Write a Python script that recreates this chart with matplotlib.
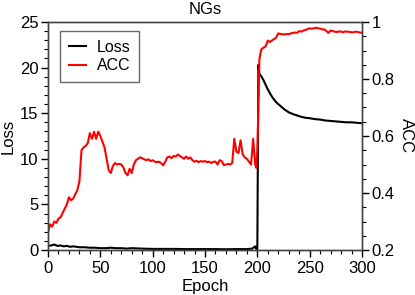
import matplotlib
matplotlib.use("Agg")
import matplotlib.pyplot as plt
from matplotlib.ticker import MultipleLocator

plt.rcParams['font.family'] = ['Liberation Sans', 'DejaVu Sans']

acc_epoch = [0, 2, 4, 6, 8, 10, 12, 14, 16, 18, 20, 22, 24, 26, 28, 30, 32, 34, 36, 38,
             40, 42, 44, 46, 48, 50, 52, 54, 56, 58, 60, 62, 64, 66, 68, 70, 72, 74, 76, 78,
             80, 82, 84, 86, 88, 90, 92, 94, 96, 98, 100, 102, 104, 106, 108, 110, 112, 114, 116, 118,
             120, 122, 124, 126, 128, 130, 132, 134, 136, 138, 140, 142, 144, 146, 148, 150, 152, 154, 156, 158,
             160, 162, 164, 166, 168, 170, 172, 174, 176, 178, 180, 182, 184, 186, 188, 190, 192, 194, 196, 198,
             199, 200, 201, 202, 203, 204, 206, 208, 210, 212, 214, 216, 218, 220, 222, 224, 226, 228, 230, 232,
             234, 236, 238, 240, 242, 244, 246, 248, 250, 252, 254, 256, 258, 260, 262, 264, 266, 268, 270, 272,
             274, 276, 278, 280, 282, 284, 286, 288, 290, 292, 294, 296, 298, 300]
acc_value = [0.262, 0.29, 0.282, 0.30, 0.295, 0.31, 0.315, 0.33, 0.345, 0.36, 0.385, 0.375, 0.38, 0.395, 0.41, 0.44, 0.55, 0.56, 0.565, 0.575,
             0.61, 0.59, 0.615, 0.59, 0.615, 0.60, 0.58, 0.56, 0.52, 0.48, 0.47, 0.495, 0.505, 0.50, 0.502, 0.50, 0.49, 0.47, 0.462, 0.485,
             0.47, 0.50, 0.515, 0.52, 0.525, 0.522, 0.518, 0.515, 0.518, 0.512, 0.515, 0.51, 0.508, 0.51, 0.505, 0.497, 0.51, 0.525, 0.528, 0.522,
             0.53, 0.528, 0.535, 0.53, 0.525, 0.52, 0.528, 0.52, 0.525, 0.515, 0.51, 0.513, 0.508, 0.512, 0.51, 0.512, 0.508, 0.51, 0.505, 0.51,
             0.51, 0.50, 0.515, 0.512, 0.498, 0.50, 0.502, 0.50, 0.505, 0.59, 0.545, 0.54, 0.585, 0.535, 0.525, 0.52, 0.51, 0.50, 0.59, 0.50,
             0.488, 0.55, 0.70, 0.87, 0.89, 0.905, 0.91, 0.915, 0.935, 0.93, 0.935, 0.94, 0.945, 0.96, 0.958, 0.957, 0.956, 0.958, 0.957, 0.96,
             0.962, 0.963, 0.962, 0.968, 0.966, 0.97, 0.972, 0.975, 0.978, 0.976, 0.978, 0.98, 0.978, 0.977, 0.974, 0.974, 0.968, 0.962, 0.97, 0.968,
             0.966, 0.965, 0.967, 0.966, 0.964, 0.967, 0.966, 0.965, 0.964, 0.964, 0.966, 0.965, 0.963, 0.962]

loss_epoch = [0, 3, 6, 9, 12, 15, 18, 21, 24, 27, 30, 35, 40, 45, 50, 55, 60, 65, 70, 75,
              80, 90, 100, 110, 120, 130, 140, 150, 160, 170, 180, 190, 195, 198, 199, 200, 201, 202, 204, 206,
              208, 210, 212, 214, 216, 218, 220, 222, 226, 230, 234, 238, 242, 246, 250, 255, 260, 265, 270, 275,
              280, 285, 290, 295, 300]
loss_value = [0.45, 0.5, 0.6, 0.45, 0.5, 0.4, 0.45, 0.35, 0.4, 0.35, 0.3, 0.3, 0.25, 0.25, 0.2, 0.2, 0.25, 0.2, 0.2, 0.15,
              0.2, 0.15, 0.12, 0.12, 0.12, 0.1, 0.1, 0.1, 0.1, 0.08, 0.1, 0.1, 0.15, 0.4, 0.1, 0.1, 20.3, 19.3, 19.0, 18.6,
              18.1, 17.6, 17.2, 16.8, 16.5, 16.2, 16.0, 15.8, 15.4, 15.1, 14.9, 14.75, 14.6, 14.5, 14.45, 14.35, 14.3, 14.2, 14.15, 14.1,
              14.05, 14.0, 14.0, 13.95, 13.9]

fig = plt.figure(figsize=(4.15, 2.95), dpi=100)
ax = fig.add_axes([48/415, 45/295, 314/415, 228/295])
ax2 = ax.twinx()

l1, = ax.plot(loss_epoch, loss_value, color='black', lw=1.5, label='Loss')
l2, = ax2.plot(acc_epoch, acc_value, color='red', lw=1.5, label='ACC')

ax.set_xlim(0, 300)
ax.set_ylim(0, 25)
ax2.set_ylim(0.2, 1.0)

ax.xaxis.set_major_locator(MultipleLocator(50))
ax.xaxis.set_minor_locator(MultipleLocator(10))
ax.yaxis.set_major_locator(MultipleLocator(5))
ax.yaxis.set_minor_locator(MultipleLocator(1))
ax2.yaxis.set_minor_locator(MultipleLocator(0.05))
ax2.set_yticks([0.2, 0.4, 0.6, 0.8, 1.0])
ax2.set_yticklabels(['0.2', '0.4', '0.6', '0.8', '1'])

for a in (ax, ax2):
    a.tick_params(which='major', direction='out', length=5, width=1, labelsize=12)
    a.tick_params(which='minor', direction='out', length=3, width=0.8)
    for s in a.spines.values():
        s.set_color('#444444')
        s.set_linewidth(1)
ax.tick_params(axis='both', which='both', top=False, right=False)
ax.tick_params(axis='x', pad=3)
ax.tick_params(axis='y', pad=2)
ax2.tick_params(axis='y', pad=2)

ax.set_xlabel('Epoch', fontsize=12, labelpad=2)
ax.set_ylabel('Loss', fontsize=12, labelpad=3)
ax2.set_ylabel('ACC', fontsize=12, rotation=270, labelpad=14)
ax.set_title('NGs', fontsize=12, pad=6)

leg = ax.legend(handles=[l1, l2], loc='upper left', bbox_to_anchor=(0.038, 0.96),
                borderaxespad=0, fontsize=11.5, frameon=True, fancybox=False,
                edgecolor='#444444', handlelength=1.1, handletextpad=0.65,
                borderpad=0.55, labelspacing=0.2)
leg.get_frame().set_linewidth(1)

fig.savefig('out.png', dpi=100)
